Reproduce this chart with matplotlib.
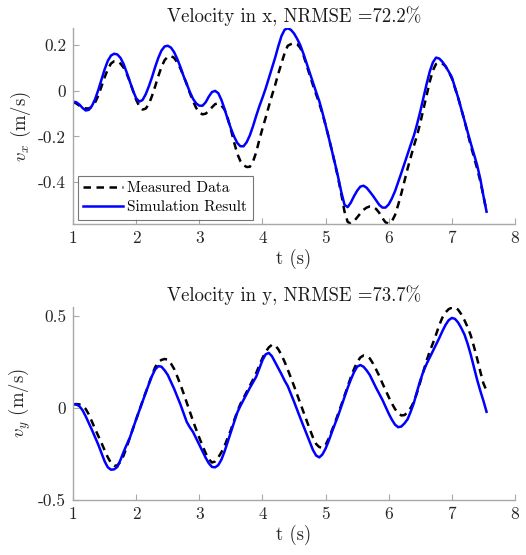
import numpy as np
import matplotlib.pyplot as plt

plt.rcParams["font.family"] = "serif"
plt.rcParams["font.serif"] = ["cmr10", "DejaVu Serif"]
plt.rcParams["mathtext.fontset"] = "cm"
plt.rcParams["axes.unicode_minus"] = False

# time axis (s), 0.05 s steps
t = np.round(np.arange(1.0, 7.551, 0.05), 2)

# velocity in x (m/s)
vx_meas = [-0.050, -0.055, -0.065, -0.072, -0.077, -0.077, -0.070, -0.050, -0.020, 0.020,
           0.060, 0.095, 0.120, 0.130, 0.130, 0.120, 0.102, 0.075, 0.040, 0.000,
           -0.040, -0.068, -0.082, -0.078, -0.058, -0.022, 0.020, 0.065, 0.105, 0.135,
           0.150, 0.153, 0.145, 0.125, 0.098, 0.065, 0.030, -0.010, -0.045, -0.075,
           -0.095, -0.103, -0.100, -0.088, -0.072, -0.058, -0.055, -0.065, -0.082, -0.120,
           -0.170, -0.225, -0.275, -0.308, -0.326, -0.334, -0.333, -0.310, -0.270, -0.215,
           -0.165, -0.118, -0.068, -0.020, 0.025, 0.075, 0.120, 0.165, 0.198, 0.205,
           0.210, 0.205, 0.188, 0.155, 0.112, 0.068, 0.025, -0.015, -0.055, -0.100,
           -0.150, -0.205, -0.262, -0.322, -0.385, -0.455, -0.530, -0.575, -0.582, -0.572,
           -0.555, -0.538, -0.522, -0.512, -0.507, -0.508, -0.518, -0.535, -0.558, -0.577,
           -0.582, -0.572, -0.545, -0.500, -0.450, -0.395, -0.340, -0.290, -0.240, -0.195,
           -0.140, -0.080, -0.020, 0.040, 0.090, 0.118, 0.125, 0.120, 0.108, 0.085,
           0.055, 0.012, -0.030, -0.080, -0.130, -0.185, -0.240, -0.290, -0.340, -0.395,
           -0.460, -0.530]
vx_sim = [-0.047, -0.050, -0.060, -0.075, -0.086, -0.083, -0.065, -0.035, 0.005, 0.050,
          0.095, 0.132, 0.155, 0.163, 0.160, 0.145, 0.118, 0.080, 0.040, 0.000,
          -0.033, -0.047, -0.040, -0.015, 0.020, 0.060, 0.105, 0.145, 0.177, 0.195,
          0.198, 0.190, 0.170, 0.140, 0.105, 0.065, 0.030, -0.005, -0.035, -0.055,
          -0.065, -0.065, -0.050, -0.025, -0.005, 0.000, -0.010, -0.040, -0.080, -0.125,
          -0.165, -0.200, -0.228, -0.243, -0.243, -0.225, -0.195, -0.155, -0.110, -0.068,
          -0.030, 0.010, 0.055, 0.100, 0.145, 0.195, 0.240, 0.268, 0.275, 0.268,
          0.252, 0.228, 0.200, 0.162, 0.120, 0.078, 0.035, -0.005, -0.045, -0.095,
          -0.150, -0.205, -0.262, -0.320, -0.380, -0.445, -0.500, -0.510, -0.490, -0.462,
          -0.438, -0.420, -0.416, -0.425, -0.442, -0.460, -0.480, -0.500, -0.512, -0.512,
          -0.498, -0.472, -0.440, -0.400, -0.360, -0.318, -0.275, -0.235, -0.195, -0.145,
          -0.090, -0.030, 0.030, 0.085, 0.125, 0.146, 0.142, 0.128, 0.108, 0.085,
          0.060, 0.015, -0.030, -0.080, -0.130, -0.180, -0.230, -0.278, -0.325, -0.385,
          -0.460, -0.530]

# velocity in y (m/s)
vy_meas = [0.020, 0.022, 0.020, 0.012, -0.005, -0.035, -0.075, -0.115, -0.152, -0.190,
           -0.230, -0.268, -0.298, -0.313, -0.312, -0.292, -0.258, -0.210, -0.160, -0.110,
           -0.060, -0.012, 0.038, 0.085, 0.132, 0.180, 0.222, 0.250, 0.262, 0.267,
           0.263, 0.242, 0.213, 0.172, 0.128, 0.080, 0.030, -0.020, -0.070, -0.117,
           -0.162, -0.205, -0.245, -0.278, -0.296, -0.290, -0.268, -0.240, -0.205, -0.162,
           -0.118, -0.068, -0.020, 0.022, 0.055, 0.088, 0.122, 0.155, 0.190, 0.232,
           0.272, 0.305, 0.330, 0.344, 0.342, 0.320, 0.290, 0.252, 0.210, 0.165,
           0.120, 0.072, 0.025, -0.022, -0.070, -0.115, -0.160, -0.195, -0.212, -0.215,
           -0.200, -0.165, -0.122, -0.078, -0.030, 0.018, 0.068, 0.118, 0.168, 0.212,
           0.250, 0.275, 0.286, 0.282, 0.270, 0.243, 0.210, 0.175, 0.135, 0.097,
           0.060, 0.025, -0.005, -0.028, -0.040, -0.038, -0.022, 0.002, 0.035, 0.085,
           0.142, 0.200, 0.258, 0.308, 0.352, 0.400, 0.450, 0.492, 0.520, 0.538,
           0.546, 0.548, 0.535, 0.510, 0.478, 0.440, 0.395, 0.335, 0.270, 0.200,
           0.135, 0.095]
vy_sim = [0.020, 0.020, 0.010, -0.012, -0.045, -0.082, -0.120, -0.160, -0.200, -0.245,
          -0.290, -0.322, -0.335, -0.333, -0.320, -0.282, -0.238, -0.198, -0.160, -0.110,
          -0.060, -0.012, 0.035, 0.083, 0.130, 0.175, 0.210, 0.228, 0.225, 0.205,
          0.180, 0.143, 0.105, 0.062, 0.020, -0.028, -0.075, -0.105, -0.130, -0.165,
          -0.200, -0.235, -0.270, -0.300, -0.320, -0.322, -0.310, -0.280, -0.235, -0.182,
          -0.130, -0.078, -0.025, 0.012, 0.045, 0.078, 0.110, 0.140, 0.170, 0.215,
          0.260, 0.292, 0.300, 0.282, 0.250, 0.218, 0.185, 0.150, 0.120, 0.078,
          0.035, -0.010, -0.055, -0.098, -0.140, -0.185, -0.228, -0.258, -0.268, -0.252,
          -0.220, -0.178, -0.130, -0.085, -0.040, 0.010, 0.060, 0.110, 0.155, 0.195,
          0.225, 0.234, 0.225, 0.205, 0.180, 0.145, 0.110, 0.078, 0.045, 0.008,
          -0.030, -0.063, -0.090, -0.104, -0.100, -0.083, -0.060, -0.018, 0.030, 0.092,
          0.150, 0.200, 0.240, 0.275, 0.310, 0.345, 0.380, 0.418, 0.452, 0.478,
          0.490, 0.485, 0.465, 0.435, 0.400, 0.350, 0.290, 0.222, 0.155, 0.095,
          0.040, -0.020]

titles = ["Velocity in x, NRMSE =72.2%", "Velocity in y, NRMSE =73.7%"]
ylabels = ["$v_x$ (m/s)", "$v_y$ (m/s)"]
yticks = [[-0.4, -0.2, 0, 0.2], [-0.5, 0, 0.5]]
yticklabels = [["-0.4", "-0.2", "0", "0.2"], ["-0.5", "0", "0.5"]]
ylims = [(-0.585, 0.277), (-0.5, 0.55)]

fig = plt.figure(figsize=(5.26, 5.55), dpi=100)
ax1 = fig.add_axes([0.139, 0.596, 0.840, 0.354])
ax2 = fig.add_axes([0.139, 0.099, 0.840, 0.348])

grey = "#a8a8a8"
for i, (ax, meas, sim) in enumerate([(ax1, vx_meas, vx_sim), (ax2, vy_meas, vy_sim)]):
    ax.plot(t, meas, color="k", lw=1.8, ls=(0, (3, 2.2)), label="Measured Data")
    ax.plot(t, sim, color=(0, 0, 1), lw=1.8, label="Simulation Result")
    ax.set_xlim(1, 8)
    ax.set_ylim(*ylims[i])
    ax.set_xticks(range(1, 9))
    ax.set_yticks(yticks[i])
    ax.set_yticklabels(yticklabels[i])
    ax.spines["top"].set_visible(False)
    ax.spines["right"].set_visible(False)
    for s in ["left", "bottom"]:
        ax.spines[s].set_color(grey)
        ax.spines[s].set_linewidth(1.0)
    ax.tick_params(direction="in", length=4, color=grey, labelcolor="#262626",
                   labelsize=12.5, pad=5)
    ax.set_title(titles[i], fontsize=13.5, color="#1a1a1a", pad=4)
    ax.set_xlabel("t (s)", fontsize=13.5, color="#262626", labelpad=2)
    ax.set_ylabel(ylabels[i], fontsize=13.5, color="#262626", labelpad=4)

leg = ax1.legend(loc="lower left", fontsize=11, frameon=True, fancybox=False,
                 borderaxespad=0.3, handlelength=2.6, handletextpad=0.3,
                 borderpad=0.35, labelspacing=0.35)
leg.get_frame().set_edgecolor("#555555")
leg.get_frame().set_linewidth(0.8)

fig.savefig("out.png", dpi=100)
